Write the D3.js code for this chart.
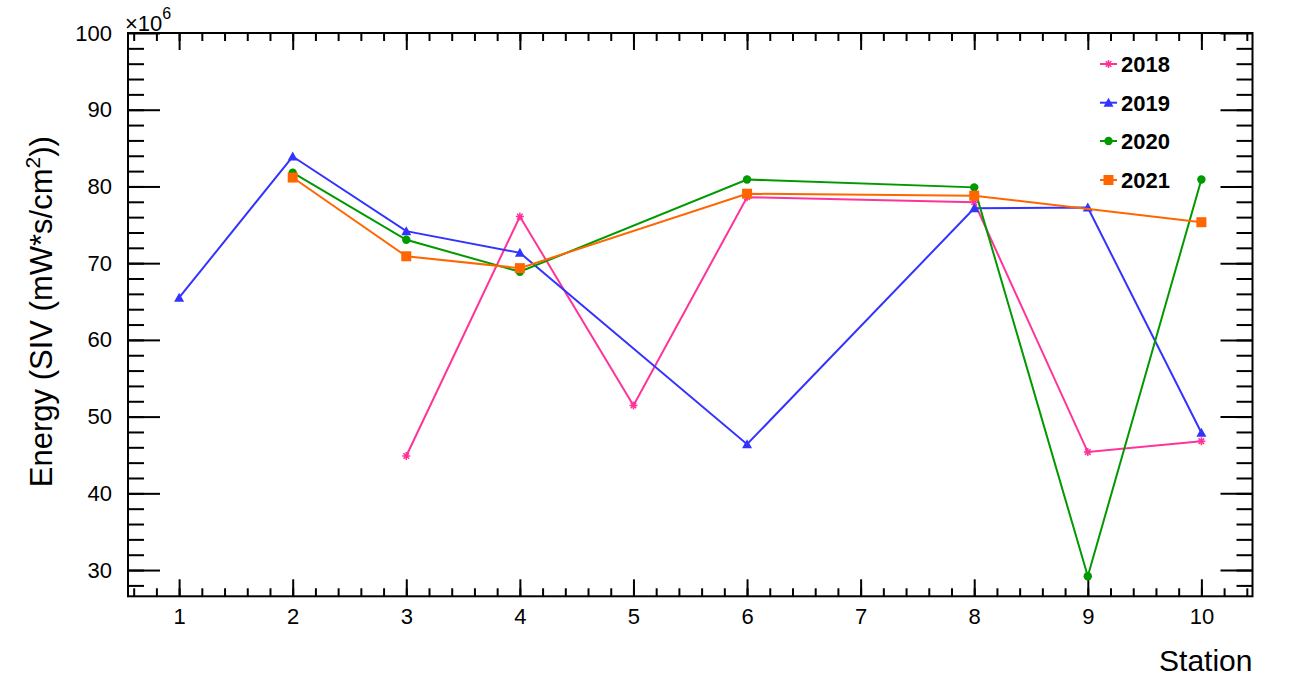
<!DOCTYPE html>
<html><head><meta charset="utf-8">
<script src="https://cdn.jsdelivr.net/npm/d3@7"></script>
<style>body{margin:0;background:#fff}svg{display:block}text{font-family:"Liberation Sans",Arial,sans-serif}</style>
</head><body>
<script>
const stations = [1,2,3,4,5,6,7,8,9,10];
const xTickLabels = ["1","2","3","4","5","6","7","8","9","10"];
const yTickLabels = ["30","40","50","60","70","80","90","100"];
// values in units of 1e6 mW*s/cm^2
const s2018 = [[3,44.87],[4,76.08],[5,51.45],[6,78.6],[8,77.94],[9,45.38],[10,46.8]];
const s2019 = [[1,65.5],[2,83.9],[3,74.17],[4,71.35],[6,46.4],[8,77.15],[9,77.25],[10,47.9]];
const s2020 = [[2,81.8],[3,73.05],[4,68.88],[6,80.9],[8,79.88],[9,29.2],[10,80.9]];
const s2021 = [[2,81.16],[3,70.9],[4,69.35],[6,79.05],[8,78.8],[10,75.34]];
const seriesNames = ["2018","2019","2020","2021"];
const seriesColors = ["#ff3399","#3333ff","#009900","#ff6600"];
const seriesMarkers = ["star","triangle","circle","square"];
const seriesData = [s2018,s2019,s2020,s2021];

const W=1292,H=679;
const L=128,T=33,R=1252.5,B=596.3;
const FF="Liberation Sans, Arial, sans-serif";
const svg=d3.select("body").append("svg").attr("width",W).attr("height",H);
const x=d3.scaleLinear().domain([0.55,10.45]).range([L,R]);
const y=d3.scaleLinear().domain([26.58,100]).range([B,T]);

// frame
svg.append("rect").attr("x",L).attr("y",T).attr("width",R-L).attr("height",B-T)
  .attr("fill","none").attr("stroke","#000").attr("stroke-width",2);

const xMinor=d3.range(0.6,10.45,0.2).map(v=>+v.toFixed(2));
const yMinor=d3.range(28,100,2);
const yMajor=yTickLabels.map(Number);

function styleAxis(g){g.select(".domain").remove();g.selectAll("line").attr("stroke","#000").attr("stroke-width",2);}
function styleText(g){g.selectAll("text").attr("font-size",22).attr("fill","#000").attr("font-family",FF);}

// bottom
svg.append("g").attr("transform",`translate(0,${B})`)
  .call(d3.axisBottom(x).tickValues(stations).tickSize(-17).tickPadding(12).tickFormat((d,i)=>xTickLabels[i]))
  .call(styleAxis).call(styleText);
svg.append("g").attr("transform",`translate(0,${B})`)
  .call(d3.axisBottom(x).tickValues(xMinor).tickSize(-8).tickFormat(""))
  .call(styleAxis);
// top
svg.append("g").attr("transform",`translate(0,${T})`)
  .call(d3.axisTop(x).tickValues(stations).tickSize(-17).tickFormat(""))
  .call(styleAxis);
svg.append("g").attr("transform",`translate(0,${T})`)
  .call(d3.axisTop(x).tickValues(xMinor).tickSize(-8).tickFormat(""))
  .call(styleAxis);
// left
svg.append("g").attr("transform",`translate(${L},0)`)
  .call(d3.axisLeft(y).tickValues(yMajor).tickSize(-32).tickPadding(16).tickFormat((d,i)=>yTickLabels[i]))
  .call(styleAxis).call(styleText);
svg.append("g").attr("transform",`translate(${L},0)`)
  .call(d3.axisLeft(y).tickValues(yMinor).tickSize(-16).tickFormat(""))
  .call(styleAxis);
// right
svg.append("g").attr("transform",`translate(${R},0)`)
  .call(d3.axisRight(y).tickValues(yMajor).tickSize(-32).tickFormat(""))
  .call(styleAxis);
svg.append("g").attr("transform",`translate(${R},0)`)
  .call(d3.axisRight(y).tickValues(yMinor).tickSize(-16).tickFormat(""))
  .call(styleAxis);

// exponent
const ex=svg.append("text").attr("x",L-3).attr("y",31).attr("font-size",22).attr("fill","#000");
ex.append("tspan").text("\u00d710");
ex.append("tspan").attr("dy",-12).attr("font-size",16).text("6");

// axis titles
svg.append("text").attr("x",R).attr("y",671).attr("text-anchor","end").attr("font-size",30).attr("fill","#000").text("Station");
const yt=svg.append("text").attr("transform",`translate(52,${(T+B)/2 - 3}) rotate(-90)`).attr("text-anchor","middle").attr("font-size",31).attr("fill","#000");
yt.append("tspan").text("Energy (SIV (mW*s/cm");
yt.append("tspan").attr("dy",-12).attr("font-size",21).text("2");
yt.append("tspan").attr("dy",12).text("))");

function drawMarker(g,type,cx,cy,color){
  if(type==="star"){
    const r=4;
    g.append("path").attr("d",`M${cx-r},${cy}H${cx+r}M${cx},${cy-r}V${cy+r}M${cx-r*0.7},${cy-r*0.7}L${cx+r*0.7},${cy+r*0.7}M${cx-r*0.7},${cy+r*0.7}L${cx+r*0.7},${cy-r*0.7}`)
      .attr("stroke",color).attr("stroke-width",1.5).attr("fill","none");
  } else if(type==="triangle"){
    const r=5;
    g.append("path").attr("d",`M${cx},${cy-r}L${cx+r},${cy+r*0.8}L${cx-r},${cy+r*0.8}Z`).attr("fill",color);
  } else if(type==="circle"){
    g.append("circle").attr("cx",cx).attr("cy",cy).attr("r",4.2).attr("fill",color);
  } else {
    g.append("rect").attr("x",cx-5).attr("y",cy-5).attr("width",10).attr("height",10).attr("fill",color);
  }
}

const line=d3.line().x(d=>x(d[0])).y(d=>y(d[1]));
seriesData.forEach((data,i)=>{
  const g=svg.append("g");
  g.append("path").datum(data).attr("d",line).attr("fill","none").attr("stroke",seriesColors[i]).attr("stroke-width",2);
  data.forEach(d=>drawMarker(g,seriesMarkers[i],x(d[0]),y(d[1]),seriesColors[i]));
});

// legend
const legY=[64,102.7,141,180];
seriesNames.forEach((n,i)=>{
  const g=svg.append("g");
  g.append("line").attr("x1",1100).attr("x2",1117).attr("y1",legY[i]).attr("y2",legY[i]).attr("stroke",seriesColors[i]).attr("stroke-width",2);
  drawMarker(g,seriesMarkers[i],1108.5,legY[i],seriesColors[i]);
  g.append("text").attr("x",1121).attr("y",legY[i]+8).attr("font-size",22).attr("font-weight","bold").attr("fill","#000").text(n);
});
</script>
</body></html>
